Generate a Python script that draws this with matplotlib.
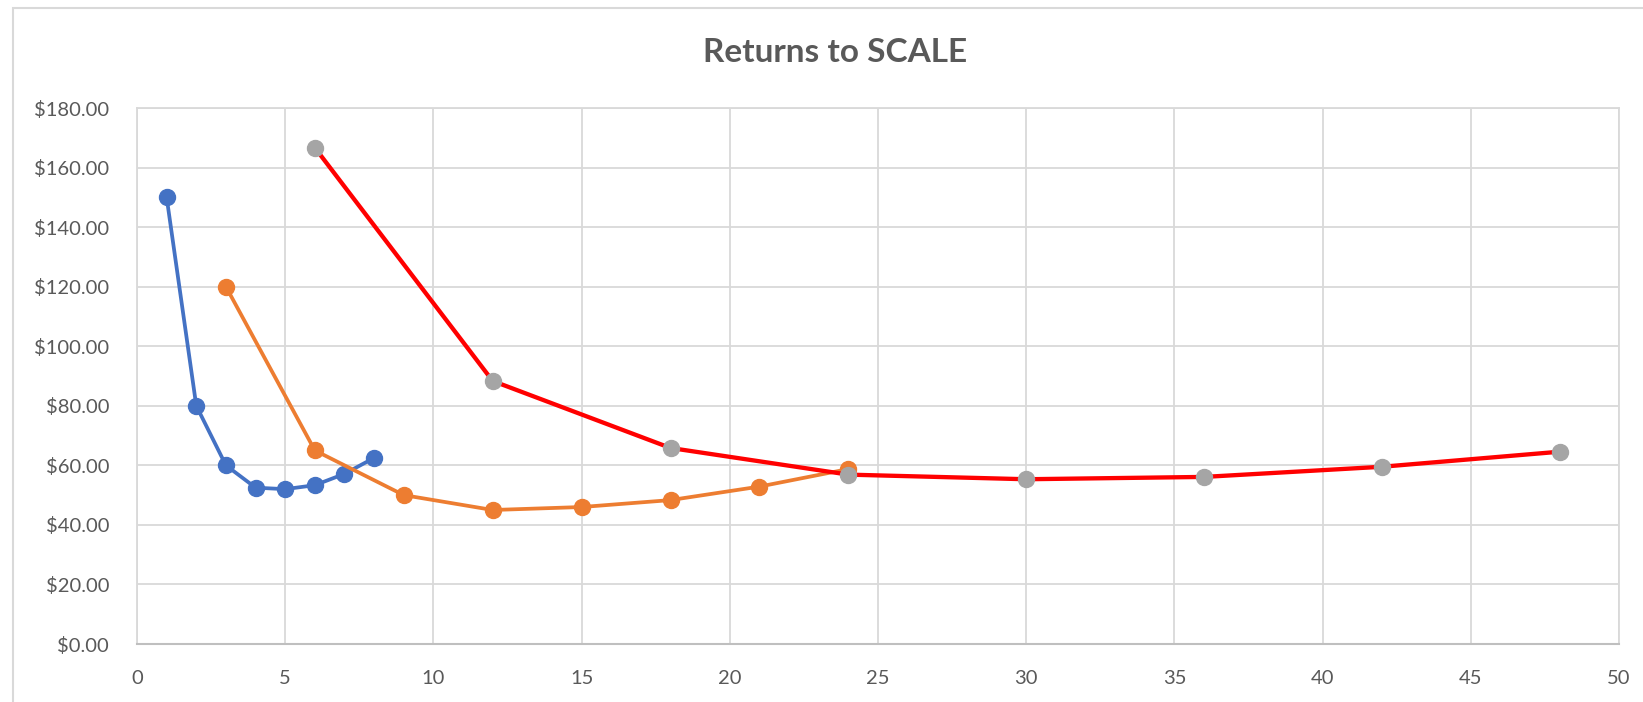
import matplotlib.pyplot as plt
from matplotlib.patches import Rectangle
from matplotlib.ticker import FuncFormatter, MultipleLocator

plt.rcParams["font.family"] = ["Lato", "DejaVu Sans"]

# Data
small_x = [1, 2, 3, 4, 5, 6, 7, 8]
small_cost = [150.00, 80.00, 60.00, 52.50, 52.00, 53.33, 57.14, 62.50]

medium_x = [3, 6, 9, 12, 15, 18, 21, 24]
medium_cost = [120.00, 65.00, 50.00, 45.00, 46.00, 48.33, 52.86, 58.75]

large_x = [6, 12, 18, 24, 30, 36, 42, 48]
large_cost = [166.67, 88.33, 65.83, 56.88, 55.33, 56.11, 59.52, 64.58]

W, H = 1643, 702
fig = plt.figure(figsize=(W / 100, H / 100), dpi=100)

# chart border (runs off the right and bottom edges like the screenshot)
fig.add_artist(Rectangle((13 / W, -0.1), 1.2, (H - 8) / H + 0.1,
                         transform=fig.transFigure, fill=False,
                         edgecolor="#D9D9D9", linewidth=1.5, clip_on=False))

ax = fig.add_axes([137 / W, (H - 644) / H, (1619 - 137) / W, (644 - 108) / H])

ax.plot(small_x, small_cost, color="#4472C4", lw=2.7, marker="o", ms=11.5,
        mfc="#4472C4", mec="#4472C4", zorder=3)
ax.plot(medium_x, medium_cost, color="#ED7D31", lw=2.7, marker="o", ms=11.5,
        mfc="#ED7D31", mec="#ED7D31", zorder=4)
ax.plot(large_x, large_cost, color="#FF0000", lw=3.1, marker="o", ms=11.5,
        mfc="#A5A5A5", mec="#A5A5A5", zorder=5)

ax.set_xlim(0, 50)
ax.set_ylim(0, 180)
ax.xaxis.set_major_locator(MultipleLocator(5))
ax.yaxis.set_major_locator(MultipleLocator(20))
ax.yaxis.set_major_formatter(FuncFormatter(lambda v, p: f"${v:,.2f}"))

ax.grid(True, color="#D9D9D9", linewidth=1.3)
ax.set_axisbelow(True)
for side in ["top", "right", "left"]:
    ax.spines[side].set_color("#D9D9D9")
    ax.spines[side].set_linewidth(1.3)
ax.spines["bottom"].set_color("#BFBFBF")
ax.spines["bottom"].set_linewidth(1.5)
ax.tick_params(length=0, labelsize=14.5, labelcolor="#595959")
ax.tick_params(axis="y", pad=20)
ax.tick_params(axis="x", pad=19)

fig.text(835 / W, 1 - 52 / H, "Returns to SCALE", ha="center", va="center",
         fontsize=24, fontweight="bold", color="#595959")

fig.savefig("out.png", dpi=100)
